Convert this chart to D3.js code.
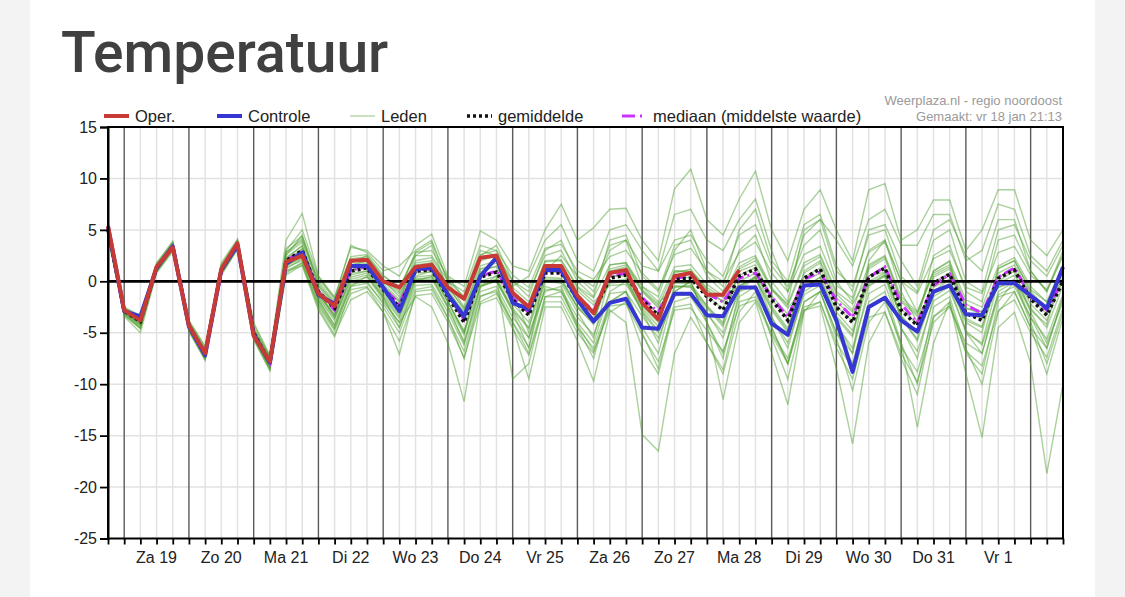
<!DOCTYPE html>
<html>
<head>
<meta charset="utf-8">
<script src="https://cdn.jsdelivr.net/npm/d3@7"></script>
<style>
  body { margin: 0; background: #f3f3f3; }
  svg { display: block; }
</style>
</head>
<body>
<svg id="chart" width="1125" height="597"></svg>
<script>
// start of the run and step between values (6 hours)
const startTime = new Date(2019, 0, 18, 18, 0);
const stepHours = 6;

// day labels under the x axis (placed at noon)
const dayLabels = ["Za 19", "Zo 20", "Ma 21", "Di 22", "Wo 23", "Do 24", "Vr 25",
                   "Za 26", "Zo 27", "Ma 28", "Di 29", "Wo 30", "Do 31", "Vr 1"];
const yTicks = [-25, -20, -15, -10, -5, 0, 5, 10, 15];

// operational run (stops after ~10 days)
const oper = [5.4,-2.8,-3.8,1.4, 3.3,-4.3,-7.0,1.2, 3.7,-5.3,-7.8,1.9, 2.5,-1.2,-2.4,2.0,
  2.1,0.0,-0.6,1.4, 1.6,-0.6,-1.7,2.3, 2.5,-1.1,-2.5,1.5, 1.5,-1.4,-3.1,0.8,
  1.1,-2.1,-3.7,0.5, 0.8,-1.3,-1.3,1.1];

// control run
const controle = [5.3,-2.9,-3.4,1.3, 3.4,-4.4,-7.2,1.1, 3.5,-5.2,-7.9,1.7, 2.8,-1.3,-2.2,1.5,
  1.5,-0.6,-2.9,1.2, 1.3,-1.3,-3.4,0.5, 2.3,-2.1,-2.7,1.1, 1.1,-1.8,-3.9,-2.1,
  -1.7,-4.5,-4.6,-1.2, -1.2,-3.3,-3.4,-0.6, -0.6,-4.1,-5.2,-0.4, -0.3,-3.8,-8.8,-2.5,
  -1.6,-3.8,-4.9,-1.0, -0.4,-3.2,-3.3,-0.2, -0.2,-1.4,-2.6,1.4];

// ensemble mean
const gemiddelde = [5.0,-2.9,-3.9,1.3, 3.4,-4.3,-7.0,1.1, 3.6,-5.0,-7.9,2.0, 3.0,-1.0,-2.6,1.0,
  1.3,-0.8,-2.5,1.0, 1.1,-1.5,-4.0,0.4, 0.9,-1.8,-3.3,0.8, 0.8,-1.8,-3.0,0.3,
  0.6,-1.8,-3.3,0.2, 0.3,-1.5,-2.8,0.5, 1.2,-1.8,-3.8,0.3, 1.2,-2.5,-4.0,0.4,
  1.3,-2.8,-4.3,-0.2, 0.7,-3.1,-3.8,0.3, 1.1,-1.7,-3.3,0.0];

// ensemble median
const mediaan = [5.0,-2.9,-3.8,1.3, 3.4,-4.3,-7.0,1.1, 3.6,-5.0,-7.9,2.0, 3.0,-1.0,-2.8,1.1,
  1.4,-0.6,-2.2,1.1, 1.2,-1.3,-3.7,0.5, 1.0,-1.6,-3.0,0.9, 0.9,-1.6,-2.8,0.5,
  0.8,-1.6,-3.0,0.3, 0.5,-1.2,-2.0,0.3, 0.8,-1.5,-3.5,0.2, 0.9,-1.9,-3.5,0.4,
  1.4,-2.2,-4.0,-0.4, 0.7,-2.3,-3.1,0.4, 1.3,-1.5,-2.8,0.1];

// ensemble members (Leden)
const leden = [
  [5.2,-2.6,-3.5,1.5, 3.6,-4.0,-6.6,1.4, 3.9,-4.6,-7.4,2.6, 3.8,-0.4,-2.2,1.8, 2.2,0.1,-1.5,2.0, 2.3,-0.4,-2.8,1.5, 2.0,-0.6,-2.0,2.0, 2.1,-0.5,-1.6,1.6, 1.8,-0.5,-2.0,1.4, 1.6,-0.3,-1.4,1.8, 2.5,-0.6,-2.4,1.5, 2.4,-1.2,-2.8,1.6, 2.5,-1.5,-3.0,1.0, 1.9,-1.8,-2.5,1.5, 2.3,-0.5,-2.0,1.6],
  [4.6,-3.2,-4.5,1.0, 3.1,-4.7,-7.5,0.8, 3.3,-5.5,-8.4,1.2, 2.2,-1.8,-4.3,-0.3, 0.0,-2.2,-4.5,-0.4, -0.3,-3.0,-6.2,-1.0, -0.5,-3.5,-5.5,-0.8, -0.8,-3.5,-5.2,-1.2, -1.0,-3.4,-5.5,-1.4, -1.3,-3.2,-5.0,-1.0, -0.4,-3.5,-6.0,-1.3, -0.4,-4.2,-6.5,-1.2, -0.3,-4.6,-6.8,-1.9, -0.9,-4.8,-6.2,-1.3, -0.5,-3.5,-5.6,-1.2],
  [5.0,-3.0,-4.2,1.2, 3.3,-4.4,-7.2,1.0, 3.5,-5.2,-8.1,1.8, 2.6,-1.5,-3.6,0.6, 1.0,-1.2,-3.2,0.4, 0.6,-2.0,-5.0,0.9, 1.5,-1.0,-2.5,1.9, 2.0,-0.6,-2.0,-0.4, -0.3,-2.8,-4.8,-0.6, -0.4,-2.4,-4.2,1.4, 2.3,-0.8,-2.2,1.8, 2.6,-1.0,-2.2,0.5, 0.9,-3.5,-5.8,-1.0, 0.2,-3.8,-4.5,1.3, 2.0,-0.8,-2.0,0.8],
  [4.9,-2.8,-3.7,1.4, 3.5,-4.2,-6.9,1.2, 3.7,-4.8,-7.7,2.3, 3.4,-0.8,-2.7,1.3, 1.6,-0.4,-2.0,1.5, 1.4,-1.2,-3.5,-0.2, 0.2,-2.6,-4.5,0.0, 0.0,-2.5,-4.2,1.2, 1.6,-0.9,-2.4,1.0, 0.9,-0.9,-2.0,-0.4, 0.3,-2.8,-5.0,-0.6, 0.4,-3.4,-5.2,1.4, 2.4,-1.8,-3.2,0.8, 1.6,-2.2,-3.0,-0.6, 0.2,-2.6,-4.5,-0.4],
  [5.3,-2.7,-3.8,1.3, 3.4,-4.3,-7.0,1.1, 3.6,-5.0,-8.0,1.5, 2.4,-1.2,-3.4,1.4, 1.8,-0.2,-1.8,1.8, 2.0,-0.8,-3.2,1.2, 1.8,-1.2,-2.8,1.0, 0.9,-2.0,-3.6,0.0, 0.2,-2.4,-4.0,0.8, 1.2,-0.8,-2.0,1.0, 1.6,-1.4,-3.2,0.0, 0.8,-3.0,-4.8,-0.2, 0.6,-3.4,-5.0,0.4, 1.2,-2.6,-3.2,0.8, 1.6,-1.2,-2.8,1.0],
  [4.7,-3.0,-4.0,1.1, 3.2,-4.5,-7.3,0.9, 3.4,-5.3,-8.2,1.7, 3.2,-1.0,-3.5,0.2, 0.6,-1.6,-3.6,0.8, 0.9,-2.0,-4.8,0.0, 0.5,-2.2,-4.0,0.4, 0.3,-2.4,-3.8,1.0, 1.4,-1.0,-2.6,-0.4, -0.6,-2.6,-4.4,0.0, 0.8,-2.4,-4.6,0.8, 1.8,-2.0,-3.4,0.0, 0.8,-3.4,-5.0,-0.6, 0.2,-3.6,-4.4,-0.2, 0.6,-2.2,-3.8,0.2],
  [5.1,-2.8,-3.6,1.6, 3.7,-4.0,-6.7,1.5, 3.9,-4.5,-7.4,3.2, 4.4,0.2,-1.6,2.4, 2.6,0.6,-0.8,2.8, 3.0,0.4,-1.6,2.6, 3.0,0.6,-0.6,3.2, 3.6,1.0,0.2,2.4, 3.0,0.8,-0.8,2.6, 3.2,1.0,0.0,2.8, 3.8,0.8,-1.0,2.6, 3.4,-0.4,-1.6,2.8, 3.8,0.0,-1.2,2.2, 3.0,-0.6,-1.2,2.8, 3.4,0.6,-0.8,2.6],
  [4.4,-3.3,-4.6,0.9, 3.0,-4.8,-7.6,0.7, 3.2,-5.6,-8.6,0.8, 1.8,-2.4,-4.8,-1.2, -0.6,-3.0,-5.8,-1.4, -1.2,-4.0,-7.4,-2.2, -1.6,-4.6,-7.2,-2.0, -2.0,-5.0,-7.0,-2.4, -2.2,-5.2,-7.8,-2.8, -2.6,-4.8,-6.8,-2.4, -1.8,-5.2,-8.0,-2.8, -2.0,-6.0,-8.4,-2.6, -1.6,-6.4,-8.8,-3.4, -2.4,-6.8,-8.2,-2.8, -1.8,-5.0,-7.4,-2.6],
  [4.5,-3.1,-4.4,1.0, 3.2,-4.6,-7.4,0.9, 3.3,-5.4,-8.5,1.0, 1.8,-2.2,-4.6,-0.5, -0.2,-2.0,-4.0,-1.5, -2.5,-6.0,-11.7,-2.0, -1.2,-4.0,-6.4,-0.5, -1.0,-4.2,-6.8,-2.8, -4.0,-14.9,-16.5,-7.0, -3.5,-6.0,-8.6,-2.0, -1.5,-5.0,-7.5,-2.5, -2.0,-6.5,-9.5,-3.5, -3.0,-7.0,-9.8,-4.0, -2.5,-6.0,-7.0,-1.5, -1.0,-4.5,-6.5,-1.5],
  [4.3,-3.4,-5.0,0.8, 2.9,-4.9,-7.7,0.6, 3.1,-5.7,-8.7,0.6, 1.6,-2.6,-5.2,-1.8, -1.0,-3.0,-7.1,-1.0, -0.8,-3.6,-6.8,-1.4, -1.0,-4.4,-9.5,-2.5, -2.5,-5.8,-9.7,-3.0, -2.0,-6.5,-9.0,-2.5, -2.2,-6.0,-9.0,-3.0, -1.0,-5.5,-9.5,-2.8, -2.4,-8.5,-15.8,-6.0, -3.0,-7.5,-11.0,-3.5, -2.0,-9.0,-15.2,-4.5, -3.0,-8.0,-18.7,-10.0],
  [5.5,-2.5,-3.3,1.8, 3.9,-3.8,-6.3,1.8, 4.1,-4.0,-7.2,4.0, 6.6,0.5,-1.5,3.3, 3.0,1.5,0.5,3.5, 4.6,0.5,-0.5,4.9, 4.0,1.5,1.0,5.0, 7.5,4.0,5.2,7.0, 7.1,4.0,2.0,9.0, 10.9,6.0,4.5,8.0, 10.7,5.0,2.0,7.0, 8.9,5.0,2.0,8.9, 9.5,4.0,5.0,7.9, 7.9,3.0,5.0,8.9, 8.9,4.0,2.5,5.0],
  [5.4,-2.6,-3.4,1.7, 3.8,-3.9,-6.4,1.6, 4.0,-4.2,-7.3,3.0, 5.0,0.5,-1.8,3.5, 2.8,1.0,1.5,3.0, 4.0,0.0,-1.0,3.5, 3.0,-0.5,0.5,4.0, 5.5,2.0,1.0,5.0, 5.5,3.0,1.0,6.5, 7.0,4.0,3.0,6.0, 8.0,3.0,-1.0,4.5, 6.0,4.0,1.5,6.0, 7.0,3.5,3.5,6.5, 6.5,2.0,3.0,7.5, 7.0,2.5,1.0,4.0],
  [5.1,-2.9,-4.1,1.3, 3.4,-4.3,-7.1,1.1, 3.6,-5.1,-8.0,2.5, 4.5,-0.5,-2.5,1.5, 2.0,-0.5,-2.0,2.5, 3.5,-1.0,-3.0,2.0, 2.5,-1.0,-5.0,-1.0, -0.5,-4.5,-6.5,-2.0, -1.0,-4.5,-7.0,-1.0, 0.0,-4.0,-7.5,-1.0, 0.5,-4.5,-8.0,-2.0, -1.0,-5.0,-7.0,2.0, 4.0,0.0,-3.0,1.0, 2.0,-5.0,-6.0,0.0, 1.0,-3.0,-6.0,-2.0],
  [4.6,-3.1,-4.3,1.2, 3.3,-4.4,-7.2,1.0, 3.5,-5.2,-8.2,1.4, 2.0,-2.0,-4.5,-0.5, 0.5,-1.5,-4.5,0.0, 0.5,-2.5,-6.0,-0.5, 0.0,-3.0,-6.5,1.0, 2.5,0.5,-1.0,3.0, 4.0,1.5,1.0,4.0, 4.5,2.0,0.5,4.5, 5.5,1.5,-0.5,3.5, 5.0,0.0,-2.0,3.0, 4.0,-1.0,-4.0,2.5, 3.5,-1.0,-2.0,4.0, 4.5,1.0,-1.0,3.0],
  [4.8,-2.9,-3.8,1.3, 3.5,-4.2,-7.0,1.2, 3.6,-5.0,-7.8,2.2, 3.5,-1.2,-3.2,0.8, 1.0,-1.0,-3.0,0.5, 1.0,-2.0,-5.0,-0.5, 0.5,-9.5,-8.0,-1.5, -1.0,-4.0,-6.0,-1.0, 0.0,-3.0,-5.0,-1.0, 0.0,-4.0,-11.5,-4.0, -2.0,-7.0,-12.0,-3.0, -1.0,-5.0,-8.0,-2.0, -1.0,-6.0,-14.2,-6.0, -2.0,-7.0,-9.0,-2.0, 0.0,-4.0,-8.0,-3.0],
  [5.0,-2.9,-3.9,1.3, 3.4,-4.3,-7.0,1.1, 3.6,-4.9,-7.9,2.1, 3.1,-0.9,-2.9,1.1, 1.4,-0.7,-2.4,1.1, 1.2,-1.4,-3.9,0.5, 1.0,-1.7,-3.2,0.9, 0.9,-1.7,-2.9,0.4, 0.7,-1.7,-3.2,0.3, 0.4,-1.4,-2.7,0.6, 1.3,-1.7,-3.7,0.4, 1.3,-2.4,-3.9,0.5, 1.4,-2.7,-4.2,-0.1, 0.8,-3.0,-3.7,0.4, 1.2,-1.6,-3.2,0.5],
  [4.9,-3.0,-4.0,1.2, 3.3,-4.4,-7.1,1.0, 3.5,-5.1,-8.0,1.9, 2.8,-1.3,-3.3,1.6, 2.0,0.0,-1.2,1.6, 1.8,-0.6,-2.6,-0.4, 0.0,-2.8,-4.6,1.4, 1.6,-0.9,-2.3,-0.2, 0.0,-2.6,-4.4,1.0, 1.0,-0.6,-1.6,-0.6, 0.4,-2.6,-4.8,1.0, 2.0,-1.6,-3.0,-0.4, 0.6,-3.6,-5.6,0.6, 1.4,-2.6,-3.0,-0.6, 0.0,-2.8,-4.2,1.4],
  [5.2,-2.8,-3.8,1.4, 3.5,-4.2,-6.9,1.2, 3.7,-4.9,-7.8,1.6, 2.2,-1.6,-3.8,0.4, 0.8,-1.4,-3.4,0.2, 0.4,-2.4,-5.2,1.2, 1.4,-1.4,-2.6,0.2, 0.2,-2.6,-4.0,1.6, 1.8,-0.8,-2.2,-0.2, -0.2,-2.4,-4.0,1.2, 2.0,-0.8,-2.6,-0.6, 0.4,-3.6,-5.4,1.2, 2.2,-2.0,-3.4,-1.2, -0.4,-4.0,-5.0,1.2, 2.0,-1.0,-2.6,0.0],
  [5.3,-2.7,-3.5,1.5, 3.6,-4.1,-6.8,1.4, 3.8,-4.7,-7.6,2.8, 4.0,0.0,-2.0,2.2, 2.4,0.5,-0.5,2.5, 2.5,0.0,-1.5,3.0, 2.5,0.0,-1.0,2.5, 3.0,0.0,-1.5,4.0, 4.5,0.5,-1.0,3.5, 4.0,0.5,-1.0,3.0, 4.5,0.0,-2.0,5.0, 6.0,1.0,-0.5,4.5, 5.0,0.5,-1.0,4.0, 5.0,0.0,-1.0,5.0, 5.5,2.0,0.5,3.5],
  [4.5,-3.2,-4.6,1.0, 3.1,-4.6,-7.5,0.8, 3.2,-5.5,-8.4,1.0, 1.5,-2.8,-5.4,-0.8, -0.5,-2.5,-5.0,-0.8, -0.5,-3.5,-7.5,-1.5, -0.8,-4.0,-7.0,-1.5, -1.5,-4.5,-7.5,-2.0, -1.0,-5.0,-8.5,-2.0, -1.5,-4.0,-7.0,-1.5, -0.5,-4.5,-8.0,-2.0, -1.0,-5.5,-10.6,-4.0, -2.0,-6.0,-10.0,-2.5, -1.5,-6.5,-10.0,-3.0, -1.0,-4.5,-9.0,-3.5],
  [5.0,-2.8,-4.0,1.4, 3.6,-4.2,-6.9,1.3, 3.8,-4.8,-7.6,2.8, 4.2,-0.2,-2.2,1.8, 2.5,0.2,-1.0,2.8, 3.8,0.0,-2.5,2.5, 3.5,0.0,-1.5,3.0, 4.0,0.5,-0.5,3.5, 4.0,-0.5,-1.5,3.0, 5.0,1.0,-0.5,5.0, 7.0,2.0,0.0,5.5, 6.5,1.5,-1.0,5.0, 5.5,2.0,-0.5,5.0, 6.0,2.5,1.0,6.0, 6.0,1.0,-1.0,2.5],
  [4.7,-3.0,-4.2,1.1, 3.2,-4.5,-7.3,0.9, 3.4,-5.3,-8.3,1.5, 2.5,-1.8,-4.2,0.0, 0.4,-1.8,-4.0,0.2, 0.2,-2.6,-5.8,-0.6, 0.2,-2.8,-5.5,0.0, -0.2,-3.0,-5.5,0.5, 0.5,-3.0,-6.0,-0.5, -0.5,-3.0,-5.5,-0.5, 0.5,-3.5,-6.5,-1.0, 0.0,-4.0,-7.0,-0.5, 0.5,-4.5,-7.5,-1.5, -0.5,-5.0,-7.0,-1.0, 0.0,-3.5,-6.5,-1.5]
];

const svg = d3.select("#chart");
const W = 1125, H = 597;

// page background and white card
svg.append("rect").attr("width", W).attr("height", H).attr("fill", "#f3f3f3");
svg.append("rect").attr("x", 30).attr("width", 1065).attr("height", H).attr("fill", "#ffffff");

svg.append("text")
  .attr("x", 61).attr("y", 72)
  .attr("font-family", "Roboto")
  .attr("font-weight", 500)
  .attr("font-size", 57)
  .attr("fill", "#404040")
  .text("Temperatuur");

// plot area
const plot = {left: 108, right: 1063, top: 127, bottom: 538.5};
const timeAt = i => new Date(startTime.getTime() + i * stepHours * 3600 * 1000);
const endTime = timeAt(59);

const x = d3.scaleTime().domain([startTime, endTime]).range([plot.left, plot.right]);
const y = d3.scaleLinear().domain([-25, 15]).range([plot.bottom, plot.top]);

const chartFont = "Liberation Sans, Arial, sans-serif";

// grid: every 6 hours light, midnight dark
const gridTimes = d3.timeHour.every(6).range(startTime, new Date(endTime.getTime() + 1));
svg.append("g").selectAll("line")
  .data(yTicks.filter(v => v !== 0 && v !== 15 && v !== -25))
  .join("line")
  .attr("x1", plot.left).attr("x2", plot.right)
  .attr("y1", d => y(d)).attr("y2", d => y(d))
  .attr("stroke", "#e2e2e2").attr("stroke-width", 1.5);

svg.append("g").selectAll("line")
  .data(gridTimes.filter(t => t.getHours() !== 0))
  .join("line")
  .attr("x1", d => x(d)).attr("x2", d => x(d))
  .attr("y1", plot.top).attr("y2", plot.bottom)
  .attr("stroke", "#e2e2e2").attr("stroke-width", 1.5);

svg.append("g").selectAll("line")
  .data(gridTimes.filter(t => t.getHours() === 0))
  .join("line")
  .attr("x1", d => x(d)).attr("x2", d => x(d))
  .attr("y1", plot.top).attr("y2", plot.bottom)
  .attr("stroke", "#5a5a5a").attr("stroke-width", 1.4);

// lines
const line = d3.line().x((d, i) => x(timeAt(i))).y(d => y(d));

svg.append("g").selectAll("path")
  .data(leden)
  .join("path")
  .attr("d", line)
  .attr("fill", "none")
  .attr("stroke", "#4e9e2e")
  .attr("stroke-opacity", 0.48)
  .attr("stroke-width", 1.4);

// zero line
svg.append("line")
  .attr("x1", plot.left).attr("x2", plot.right)
  .attr("y1", y(0)).attr("y2", y(0))
  .attr("stroke", "#000").attr("stroke-width", 2.8);

svg.append("path").datum(mediaan).attr("d", line)
  .attr("fill", "none").attr("stroke", "#cc33ff").attr("stroke-width", 3)
  .attr("stroke-dasharray", "10,4,2,4");

svg.append("path").datum(gemiddelde).attr("d", line)
  .attr("fill", "none").attr("stroke", "#111").attr("stroke-width", 3.5)
  .attr("stroke-dasharray", "3,3");

svg.append("path").datum(controle).attr("d", line)
  .attr("fill", "none").attr("stroke", "#3636d2").attr("stroke-width", 4)
  .attr("stroke-linejoin", "round");

svg.append("path").datum(oper).attr("d", line)
  .attr("fill", "none").attr("stroke", "#c83a35").attr("stroke-width", 4)
  .attr("stroke-linejoin", "round");

// frame
svg.append("rect")
  .attr("x", plot.left).attr("y", plot.top)
  .attr("width", plot.right - plot.left).attr("height", plot.bottom - plot.top)
  .attr("fill", "none").attr("stroke", "#000").attr("stroke-width", 2);

// y axis
const yAxis = svg.append("g")
  .attr("transform", `translate(${plot.left},0)`)
  .call(d3.axisLeft(y).tickValues(yTicks).tickSize(8).tickPadding(3).tickFormat(d => String(d)));
yAxis.select(".domain").attr("stroke-width", 2);
yAxis.selectAll(".tick line").attr("stroke-width", 1.8);
yAxis.selectAll("text").attr("font-family", chartFont).attr("font-size", 16).attr("fill", "#222");

// x axis: ticks every 6 hours, labels at noon
const xAxis = svg.append("g")
  .attr("transform", `translate(0,${plot.bottom})`)
  .call(d3.axisBottom(x).tickValues(gridTimes).tickSize(6).tickFormat(""));
xAxis.select(".domain").remove();
xAxis.selectAll(".tick line").attr("stroke-width", 1.8);

const noonTimes = dayLabels.map((d, k) => new Date(2019, 0, 19 + k, 12, 0));
svg.append("g").selectAll("text")
  .data(dayLabels)
  .join("text")
  .attr("x", (d, k) => x(noonTimes[k]))
  .attr("y", 563)
  .attr("text-anchor", "middle")
  .attr("font-family", chartFont).attr("font-size", 16).attr("fill", "#222")
  .text(d => d);

// legend
const legend = svg.append("g").attr("font-family", chartFont).attr("font-size", 16.5).attr("fill", "#222");
const legendItems = [
  {name: "Oper.", x: 104, color: "#c83a35", w: 4, dash: null, op: 1},
  {name: "Controle", x: 217, color: "#3636d2", w: 4, dash: null, op: 1},
  {name: "Leden", x: 350, color: "#4e9e2e", w: 1.3, dash: null, op: 0.45},
  {name: "gemiddelde", x: 467, color: "#111", w: 3.5, dash: "3,3", op: 1},
  {name: "mediaan (middelste waarde)", x: 622, color: "#cc33ff", w: 3, dash: "13,5,2,6", op: 1}
];
legendItems.forEach(it => {
  legend.append("line")
    .attr("x1", it.x).attr("x2", it.x + 25).attr("y1", 116).attr("y2", 116)
    .attr("stroke", it.color).attr("stroke-width", it.w).attr("stroke-opacity", it.op)
    .attr("stroke-dasharray", it.dash);
  legend.append("text").attr("x", it.x + 31).attr("y", 122).text(it.name);
});

// source text
const src = svg.append("g").attr("font-family", chartFont).attr("font-size", 13)
  .attr("fill", "#9a9a9a").attr("text-anchor", "end");
src.append("text").attr("x", 1062).attr("y", 105).text("Weerplaza.nl - regio noordoost");
src.append("text").attr("x", 1062).attr("y", 121).text("Gemaakt: vr 18 jan 21:13");
</script>
</body>
</html>
